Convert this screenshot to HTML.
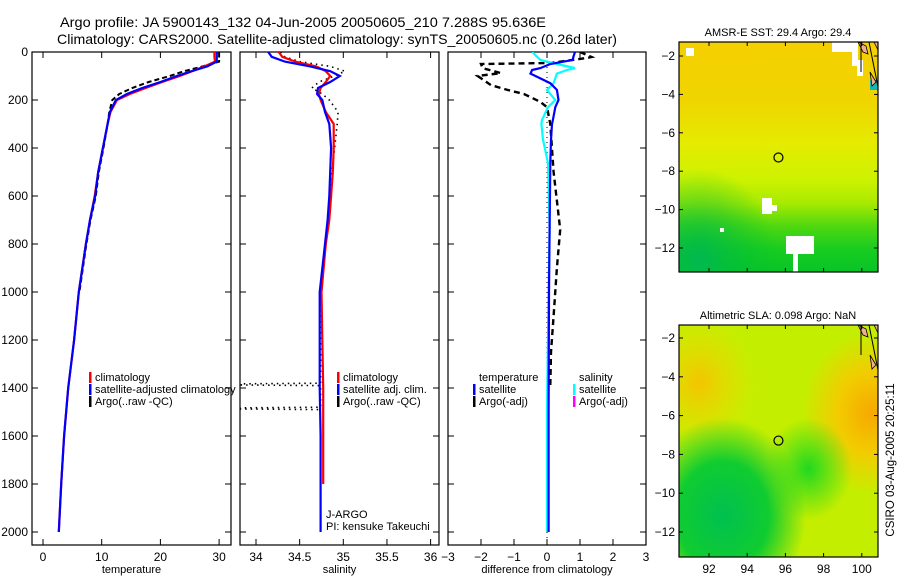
<!DOCTYPE html>
<html><head><meta charset="utf-8">
<style>
html,body{margin:0;padding:0;background:#fff;width:900px;height:580px;overflow:hidden}
svg{display:block;font-family:"Liberation Sans",sans-serif}
</style></head>
<body>
<svg id="fig" width="900" height="580" viewBox="0 0 900 580">
<defs>
<linearGradient id="sstg" x1="0" y1="0" x2="0" y2="1">
<stop offset="0" stop-color="#f4d000"/><stop offset="0.25" stop-color="#f0d400"/><stop offset="0.45" stop-color="#e4ec00"/>
<stop offset="0.6" stop-color="#ccf200"/><stop offset="0.7" stop-color="#a8ea00"/><stop offset="0.8" stop-color="#50d810"/>
<stop offset="0.9" stop-color="#18cc20"/><stop offset="1" stop-color="#08c428"/></linearGradient>
<radialGradient id="slaGreen" cx="0.22" cy="0.82" r="0.42"><stop offset="0" stop-color="#00c050"/><stop offset="0.55" stop-color="#10cc30"/><stop offset="1" stop-color="#10cc30" stop-opacity="0"/></radialGradient>
<radialGradient id="slaGreen2" cx="0.65" cy="0.62" r="0.22"><stop offset="0" stop-color="#20d820"/><stop offset="1" stop-color="#20d820" stop-opacity="0"/></radialGradient>
<radialGradient id="slaOr1" cx="0.97" cy="0.38" r="0.35"><stop offset="0" stop-color="#f6a800"/><stop offset="0.5" stop-color="#f2cc00"/><stop offset="1" stop-color="#f2cc00" stop-opacity="0"/></radialGradient>
<radialGradient id="slaOr2" cx="0.1" cy="0.25" r="0.28"><stop offset="0" stop-color="#f4c400"/><stop offset="1" stop-color="#f4d800" stop-opacity="0"/></radialGradient>
<radialGradient id="sstGreen" cx="0.1" cy="0.95" r="0.4"><stop offset="0" stop-color="#00b850"/><stop offset="1" stop-color="#00c030" stop-opacity="0"/></radialGradient>
<clipPath id="c1"><rect x="32" y="52" width="199" height="493"/></clipPath>
<clipPath id="c2"><rect x="240" y="52" width="199" height="493"/></clipPath>
<clipPath id="c3"><rect x="448" y="52" width="198" height="493"/></clipPath>
</defs>
<g id="titles" font-size="14" fill="#000">
<text x="60" y="27" textLength="486" lengthAdjust="spacingAndGlyphs">Argo profile: JA 5900143_132 04-Jun-2005 20050605_210 7.288S 95.636E</text>
<text x="57" y="44" textLength="560" lengthAdjust="spacingAndGlyphs">Climatology: CARS2000. Satellite-adjusted climatology: synTS_20050605.nc (0.26d later)</text>
</g>
<g id="plots"></g>
<g id="maps"></g>
<text transform="translate(894,460) rotate(-90)" text-anchor="middle" font-size="11.5">CSIRO 03-Aug-2005 20:25:11</text>
</svg>
<script>
// ---- data ----
const depths = [0,20,40,60,80,100,125,150,175,200,250,300,400,500,600,700,800,1000,1200,1400,1600,1800,2000];
const tempClim = [29.2,29.2,29.3,27.5,25.4,23.3,20.3,17.5,14.8,12.6,11.5,11.0,10.2,9.4,8.8,8.0,7.3,6.1,5.3,4.3,3.6,3.1,2.7];
const tempSat  = [29.6,29.6,29.6,28.0,25.3,22.8,20.0,16.9,14.3,12.4,11.4,11.0,10.2,9.4,8.9,8.0,7.3,6.1,5.3,4.3,3.6,3.1,2.7];
const argoDepths = [0,20,40,60,80,100,125,150,175,200,250,300,400,500,600,700,800,1000];
const tempArgo = [30.0,30.0,30.0,27.2,24.0,21.6,18.0,15.2,13.0,11.8,11.3,11.0,10.3,9.5,9.0,8.1,7.4,6.2];
const salClim = [34.26,34.30,34.45,34.69,34.80,34.85,34.80,34.74,34.72,34.74,34.80,34.89,34.89,34.88,34.86,34.84,34.80,34.75,34.76,34.77,34.77,34.77,null];
const salSat  = [34.14,34.18,34.33,34.62,34.85,34.96,34.85,34.71,34.70,34.76,34.79,34.84,34.86,34.85,34.84,34.82,34.79,34.73,34.73,34.73,34.74,34.74,34.74];
const salArgoDepths = [0,20,40,60,80,100,125,150,175,200,250,300,400,500,600,700,800,1000,1200,1380,1385,1390,1480,1485,1490];
const salArgo = [34.28,34.33,34.50,34.85,35.02,34.90,34.72,34.64,34.76,34.84,34.94,34.93,34.90,34.87,34.85,34.83,34.80,34.75,34.74,34.74,33.0,34.74,34.74,33.0,34.74];
const diffDepths = [0,20,33,50,67,75,90,130,158,200,230,283,300,365,463,740,1000,1500,2000];
const dTempSat = [0.85,0.8,0.78,0.1,-0.2,-0.45,-0.5,0.1,0.3,0.35,0.25,0.18,0.15,0.12,0.1,0.08,0.06,0.05,0.05];
const dSalSat  = [-0.45,-0.3,-0.2,0.3,0.85,0.6,0.3,0.2,0.0,0.25,0.03,-0.15,-0.17,-0.12,0.03,0.08,0.05,0.0,0.0];
const dArgoDepths = [0,21,25,46,50,67,88,100,138,158,175,208,230,300,500,740,900,1100,1250,1390];
const dTempArgo = [1.0,1.35,1.2,0.1,-2.0,-1.95,-1.4,-2.1,-1.7,-1.2,-0.7,-0.2,0.0,0.1,0.2,0.4,0.3,0.2,0.12,0.1];
const tempTicks = [0,10,20,30];
const salTicks = [34,34.5,35,35.5,36];
const diffTicks = [-3,-2,-1,0,1,2,3];
const depthTicks = [0,200,400,600,800,1000,1200,1400,1600,1800,2000];
const lonTicks = [92,94,96,98,100];
const latTicks = [-2,-4,-6,-8,-10,-12];
const argoLon = 95.636, argoLat = -7.288;

const NS='http://www.w3.org/2000/svg';
function mk(tag,attrs,parent){const e=document.createElementNS(NS,tag);for(const k in attrs)e.setAttribute(k,attrs[k]);parent.appendChild(e);return e;}
const yD = d => 52 + d*0.24;
const xT = v => 43 + v*5.87;
const xS = v => 256 + (v-34)*87.3;
const xDf = v => 547 + v*33;
const plots=document.getElementById('plots');

function panel(x0,w,xf,ticks,title,name,clip){
  const g=mk('g',{},plots);
  
  
  const fr=mk('rect',{x:x0,y:52,width:w,height:493,fill:'none',stroke:'#000','stroke-width':1.2},g);
  
  
  ticks.forEach(t=>{
    const x=xf(t);
    mk('line',{x1:x,y1:545,x2:x,y2:539,stroke:'#000'},g);
    mk('line',{x1:x,y1:52,x2:x,y2:58,stroke:'#000'},g);
    const tl=mk('text',{x:x,y:561,'text-anchor':'middle','font-size':12},g);
    
    
    tl.textContent=String(t).replace('-','\u2212');
  });
  depthTicks.forEach(d=>{
    const y=yD(d);
    mk('line',{x1:x0,y1:y,x2:x0+6,y2:y,stroke:'#000'},g);
    mk('line',{x1:x0+w,y1:y,x2:x0+w-6,y2:y,stroke:'#000'},g);
  });
  const at=mk('text',{x:x0+w/2,y:573,'text-anchor':'middle','font-size':11},g);
  
  
  at.textContent=title;
  return mk('g',{'clip-path':'url(#'+clip+')'},g);
}
function line(g,ds,vs,xf,color,dash,wid,name){
  let d='',pen=false;
  ds.forEach((dd,i)=>{const v=vs[i];if(v===null||v===undefined){pen=false;return;}
    d+=(pen?'L':'M')+xf(v).toFixed(1)+' '+yD(dd).toFixed(1)+' ';pen=true;});
  const p=mk('path',{d:d,fill:'none',stroke:color,'stroke-width':wid},g);
  if(dash)p.setAttribute('stroke-dasharray',dash);
  
  
}
function legend(gp,x,y,items){
  items.forEach((it,i)=>{
    if(it.c){const b=mk('rect',{x:x,y:y+i*12-9,width:2.5,height:11,fill:it.c},plots);
      
      }
    const t=mk('text',{x:x+6,y:y+i*12,'font-size':11},plots);
    
    
    t.textContent=it.t;
  });
}
depthTicks.forEach(d=>{const t=mk('text',{x:28,y:yD(d)+4,'text-anchor':'end','font-size':12},plots);
  
  
  t.textContent=d;});

const g1=panel(32,199,xT,tempTicks,'temperature','temperature-panel','c1');
line(g1,argoDepths,tempArgo,xT,'#000','5,3',2.0,'argo-temperature-line');
line(g1,depths,tempClim,xT,'#ff0000',null,2.2,'climatology-temperature-line');
line(g1,depths,tempSat,xT,'#0000ff',null,2.2,'satellite-temperature-line');
legend(plots,89,381,[{c:'#ff0000',t:'climatology'},{c:'#0000ff',t:'satellite-adjusted climatology'},{c:'#000',t:'Argo(..raw -QC)'}]);

const g2=panel(240,199,xS,salTicks,'salinity','salinity-panel','c2');
line(g2,salArgoDepths,salArgo,xS,'#000','1.5,4',1.6,'argo-salinity-line');
line(g2,depths,salClim,xS,'#ff0000',null,2.2,'climatology-salinity-line');
line(g2,depths,salSat,xS,'#0000ff',null,2.2,'satellite-salinity-line');
legend(plots,337,381,[{c:'#ff0000',t:'climatology'},{c:'#0000ff',t:'satellite adj. clim.'},{c:'#000',t:'Argo(..raw -QC)'}]);
[['J-ARGO',518],['PI: kensuke Takeuchi',530]].forEach(a=>{const t=mk('text',{x:326,y:a[1],'font-size':11},plots);
  
  
  t.textContent=a[0];});

const g3=panel(448,198,xDf,diffTicks,'difference from climatology','difference-panel','c3');
mk('line',{x1:xDf(0),y1:52,x2:xDf(0),y2:545,stroke:'#000','stroke-dasharray':'1,4'},g3);
line(g3,dArgoDepths,dTempArgo,xDf,'#000','6,4',2.4,'argo-temperature-diff-line');
line(g3,diffDepths,dSalSat,xDf,'#00ffff',null,2.2,'satellite-salinity-diff-line');
line(g3,diffDepths,dTempSat,xDf,'#0000ff',null,2.2,'satellite-temperature-diff-line');
legend(plots,473,381,[{c:null,t:'temperature'},{c:'#0000ff',t:'satellite'},{c:'#000',t:'Argo(-adj)'}]);
legend(plots,573,381,[{c:null,t:'salinity'},{c:'#00ffff',t:'satellite'},{c:'#ff00ff',t:'Argo(-adj)'}]);

// ---- maps ----
const maps=document.getElementById('maps');
function map(y0,h,lat2y,title,name,fills,extra){
  const g=mk('g',{},maps);
  
  
  fills.forEach(f=>mk('rect',{x:679,y:y0,width:199,height:h,fill:f},g));
  extra(g);
  const lx=v=>709+(v-92)*19.1;
  ['M858 '+y0+' L863 '+(y0+10)+' L868 '+(y0+12)+' L866 '+(y0+4)+' Z','M870 '+(y0+30)+' L876 '+(y0+40)+' L872 '+(y0+44)+' Z','M874 '+y0+' L878 '+(y0+8)+' L878 '+y0+' Z'].forEach(d=>
    mk('path',{d:d,fill:'#f0b090',stroke:'#000','stroke-width':0.8},g));
  mk('line',{x1:861,y1:y0,x2:861,y2:y0+30,stroke:'#000'},g);
  mk('line',{x1:869,y1:y0,x2:878,y2:y0+45,stroke:'#000'},g);
  const c=mk('circle',{cx:lx(argoLon),cy:lat2y(argoLat),r:4.5,fill:'none',stroke:'#000','stroke-width':1.2},g);
  
  
  mk('rect',{x:679,y:y0,width:199,height:h,fill:'none',stroke:'#000','stroke-width':1.2},g);
  lonTicks.forEach(v=>{const x=lx(v);
    mk('line',{x1:x,y1:y0,x2:x,y2:y0+4,stroke:'#000'},g);
    mk('line',{x1:x,y1:y0+h,x2:x,y2:y0+h-4,stroke:'#000'},g);});
  latTicks.forEach(v=>{const y=lat2y(v);
    mk('line',{x1:679,y1:y,x2:683,y2:y,stroke:'#000'},g);
    mk('line',{x1:878,y1:y,x2:874,y2:y,stroke:'#000'},g);
    const t=mk('text',{x:675,y:y+4,'text-anchor':'end','font-size':12},g);
    
    
    t.textContent=String(v).replace('-','\u2212');});
  const tt=mk('text',{x:778,y:y0-6,'text-anchor':'middle','font-size':11},g);
  
  
  tt.textContent=title;
  return lx;
}
map(42,230,v=>56+(-2-v)*19.2,'AMSR-E SST: 29.4 Argo: 29.4','sst-map',['url(#sstg)','url(#sstGreen)'],g=>{
  [[686,48,8,8],[832,42,26,10],[852,52,6,14],[857,60,6,16],[762,198,10,16],[771,205,6,6],[786,236,28,18],[793,254,5,18],[720,228,4,4]].forEach(r=>
    mk('rect',{x:r[0],y:r[1],width:r[2],height:r[3],fill:'#fff'},g));
  mk('rect',{x:870,y:80,width:8,height:10,fill:'#10b8b8'},g);
});
const lx2=map(325,232,v=>338+(-2-v)*19.4,'Altimetric SLA: 0.098 Argo: NaN','sla-map',['#c4ee00','url(#slaOr2)','url(#slaOr1)','url(#slaGreen)','url(#slaGreen2)'],g=>{});
lonTicks.forEach(v=>{const t=mk('text',{x:lx2(v),y:573,'text-anchor':'middle','font-size':12},maps);
  
  
  t.textContent=v;});
</script>
</body></html>
